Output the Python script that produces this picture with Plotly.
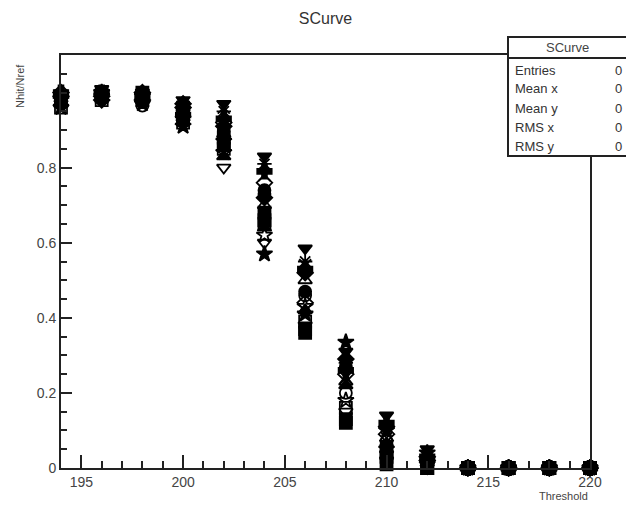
import plotly.graph_objects as go

thresholds = [194, 196, 198, 200, 202, 204, 206, 208, 210, 212, 214, 216, 218, 220]

ch_circle = [0.99, 1.00, 0.99, 0.95, 0.90, 0.74, 0.47, 0.27, 0.06, 0.01, 0, 0, 0, 0]
ch_square = [0.98, 0.99, 1.00, 0.93, 0.86, 0.66, 0.37, 0.13, 0.03, 0.00, 0, 0, 0, 0]
ch_tri_up = [0.97, 1.00, 0.98, 0.96, 0.83, 0.64, 0.42, 0.22, 0.05, 0.02, 0, 0, 0, 0]
ch_tri_down = [0.99, 1.01, 1.00, 0.98, 0.97, 0.83, 0.585, 0.31, 0.14, 0.05, 0, 0, 0, 0]
ch_circle_open = [0.98, 0.99, 0.965, 0.94, 0.88, 0.73, 0.46, 0.20, 0.07, 0.01, 0, 0, 0, 0]
ch_square_open = [0.96, 0.98, 0.99, 0.92, 0.85, 0.65, 0.39, 0.16, 0.04, 0.00, 0, 0, 0, 0]
ch_tri_up_open = [0.97, 1.00, 0.99, 0.95, 0.89, 0.70, 0.50, 0.23, 0.08, 0.02, 0, 0, 0, 0]
ch_diamond_open = [1.00, 0.99, 0.98, 0.97, 0.92, 0.76, 0.44, 0.25, 0.09, 0.03, 0, 0, 0, 0]
ch_star = [0.96, 0.99, 0.97, 0.91, 0.87, 0.57, 0.41, 0.335, 0.10, 0.04, 0, 0, 0, 0]
ch_star_open = [0.98, 1.00, 0.99, 0.93, 0.84, 0.62, 0.43, 0.18, 0.05, 0.01, 0, 0, 0, 0]
ch_diamond = [0.99, 0.98, 1.00, 0.96, 0.91, 0.72, 0.52, 0.29, 0.11, 0.02, 0, 0, 0, 0]
ch_cross = [1.00, 1.00, 0.99, 0.94, 0.93, 0.79, 0.53, 0.26, 0.12, 0.03, 0, 0, 0, 0]
ch_asterisk = [0.97, 0.99, 1.00, 0.97, 0.95, 0.81, 0.55, 0.28, 0.06, 0.02, 0, 0, 0, 0]
ch_x = [0.98, 1.00, 0.98, 0.95, 0.96, 0.78, 0.54, 0.24, 0.08, 0.01, 0, 0, 0, 0]
ch_tri_down_open = [0.97, 0.99, 0.99, 0.92, 0.80, 0.60, 0.38, 0.15, 0.02, 0.00, 0, 0, 0, 0]
ch_square2 = [0.99, 1.00, 0.98, 0.96, 0.88, 0.68, 0.36, 0.12, 0.01, 0.00, 0, 0, 0, 0]

series = [
    ("circle", ch_circle),
    ("square", ch_square),
    ("triangle-up", ch_tri_up),
    ("triangle-down", ch_tri_down),
    ("circle-open", ch_circle_open),
    ("square-open", ch_square_open),
    ("triangle-up-open", ch_tri_up_open),
    ("diamond-open", ch_diamond_open),
    ("star", ch_star),
    ("star-open", ch_star_open),
    ("diamond", ch_diamond),
    ("cross", ch_cross),
    ("asterisk-open", ch_asterisk),
    ("x-thin-open", ch_x),
    ("triangle-down-open", ch_tri_down_open),
    ("square", ch_square2),
]

y_tickvals = [0, 0.2, 0.4, 0.6, 0.8]
y_ticktext = ["0", "0.2", "0.4", "0.6", "0.8"]
x_tickvals = [195, 200, 205, 210, 215, 220]
x_ticktext = ["195", "200", "205", "210", "215", "220"]

stat_labels = ["Entries", "Mean x", "Mean y", "RMS x", "RMS y"]
stat_values = ["0", "0", "0", "0", "0"]

fig = go.Figure()
for sym, vals in series:
    fig.add_trace(go.Scatter(
        x=thresholds, y=vals, mode="markers", cliponaxis=False,
        marker=dict(symbol=sym, size=12, color="black",
                    line=dict(color="black", width=1.8)),
        showlegend=False,
    ))

FONT = "Liberation Sans, Arial, sans-serif"
L, R, T, B = 61, 590, 55, 468
W = R - L
H = B - T

def px(x):
    return (x - L) / W

def py(y):
    return (B - y) / H

fig.update_layout(
    width=626, height=506,
    margin=dict(l=L, r=626 - R, t=T, b=506 - B, autoexpand=False),
    paper_bgcolor="white", plot_bgcolor="white",
    font=dict(family=FONT, color="#333333"),
    title=dict(text="SCurve", x=0.5, xref="paper", xanchor="center",
               y=1 - 18 / 506, yanchor="middle",
               font=dict(size=16, color="#333333", family=FONT)),
    xaxis=dict(range=[194, 220], showgrid=False, zeroline=False, automargin=False,
               showline=True, linecolor="#222222", linewidth=2, mirror=True,
               ticks="inside", ticklen=13, tickwidth=2, tickcolor="#222222",
               tickmode="array", tickvals=x_tickvals, ticktext=x_ticktext,
               minor=dict(ticks="inside", ticklen=7, tickwidth=1.5,
                          tickmode="linear", tick0=194, dtick=1,
                          tickcolor="#222222", showgrid=False),
               tickfont=dict(size=14, color="#444444", family=FONT)),
    yaxis=dict(range=[0, 1.1], showgrid=False, zeroline=False, automargin=False,
               showline=True, linecolor="#222222", linewidth=2, mirror=True,
               ticks="inside", ticklen=11, tickwidth=2, tickcolor="#222222",
               tickmode="array", tickvals=y_tickvals, ticktext=y_ticktext,
               minor=dict(ticks="inside", ticklen=6, tickwidth=1.5,
                          tickmode="linear", tick0=0, dtick=0.05,
                          tickcolor="#222222", showgrid=False),
               tickfont=dict(size=14, color="#444444", family=FONT)),
)

annotations = [
    dict(text="Nhit/Nref", xref="paper", yref="paper", x=px(20), y=py(62),
         xanchor="center", yanchor="top", textangle=-90, showarrow=False,
         font=dict(size=11, color="#444444", family=FONT)),
    dict(text="Threshold", xref="paper", yref="paper", x=px(590), y=py(496),
         xanchor="right", yanchor="middle", showarrow=False,
         font=dict(size=11, color="#444444", family=FONT)),
    dict(text="SCurve", xref="paper", yref="paper", x=px(567), y=py(47),
         xanchor="center", yanchor="middle", showarrow=False,
         font=dict(size=13, color="#444444", family=FONT)),
]
row_y = [70, 89, 108, 127, 146]
for lab, val, ry in zip(stat_labels, stat_values, row_y):
    annotations.append(dict(text=lab, xref="paper", yref="paper", x=px(513), y=py(ry),
                            xanchor="left", yanchor="middle", showarrow=False,
                            font=dict(size=13, color="#333333", family=FONT)))
    annotations.append(dict(text=val, xref="paper", yref="paper", x=px(624), y=py(ry),
                            xanchor="right", yanchor="middle", showarrow=False,
                            font=dict(size=13, color="#333333", family=FONT)))
fig.update_layout(annotations=annotations)

shapes = [
    dict(type="rect", xref="paper", yref="paper", x0=px(508), x1=px(640),
         y0=py(156), y1=py(37), line=dict(color="#222222", width=2),
         fillcolor="white", layer="above"),
    dict(type="line", xref="paper", yref="paper", x0=px(508), x1=px(640),
         y0=py(58), y1=py(58), line=dict(color="#222222", width=2), layer="above"),
]
fig.update_layout(shapes=shapes)

fig.write_html("out.html", config={"displayModeBar": False})

with open("out.html", "r", encoding="utf-8") as f:
    html = f.read()
html = html.replace("<head>", "<head><style>html,body{margin:0;padding:0;overflow:hidden;}</style>", 1)
with open("out.html", "w", encoding="utf-8") as f:
    f.write(html)
